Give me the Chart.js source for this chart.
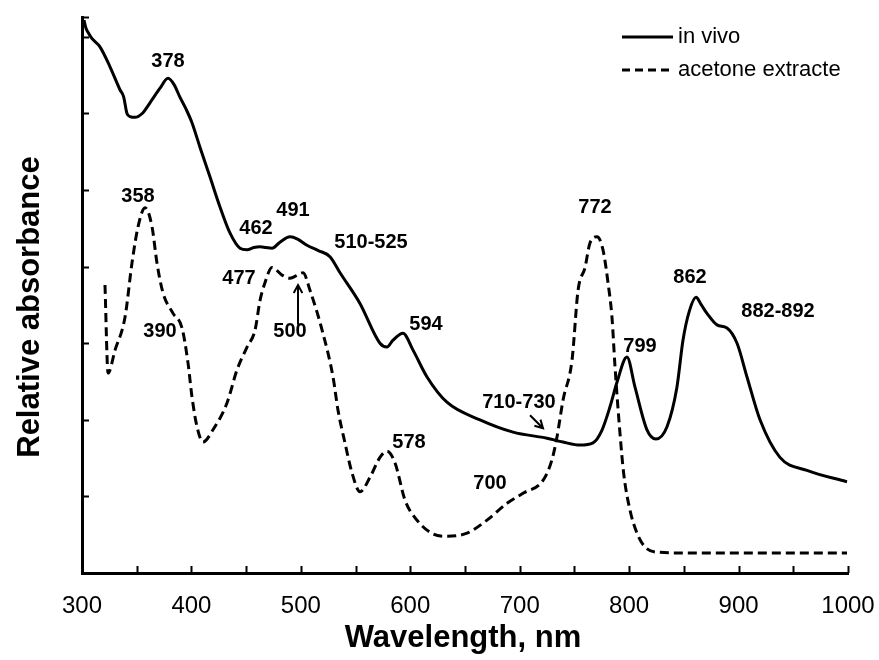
<!DOCTYPE html>
<html>
<head>
<meta charset="utf-8">
<script src="https://cdn.jsdelivr.net/npm/chart.js@4.4.0/dist/chart.umd.min.js"></script>
<style>
  html, body { margin: 0; padding: 0; background: #fff; }
  #wrap { width: 879px; height: 660px; }
</style>
</head>
<body>
<div id="wrap"><canvas id="chart"></canvas></div>
<script>
// in vivo spectrum (solid line)
const inVivoNm = [301.8, 303.5, 305.5, 309, 316.4, 325.6, 334.7, 338, 341.1, 344, 348.4, 355, 362.1, 371.3, 378.6, 384,
  389.6, 395, 400.5, 407.8, 417.0, 426.1, 435.2, 444.4, 450.8, 457, 462.7, 468, 473.6, 480.9, 490.1, 497, 505.6, 516, 526.6,
  535.8, 554.0, 572.3, 578.7, 584.2, 593.3, 602.5, 615.3, 633.5, 663.7, 693.9, 724.9, 739.6, 755.1, 767.0, 775, 782.5,
  788.9, 798.0, 805.3, 816.3, 824.5, 834.6, 843.7, 849.2, 855, 861.1, 866, 871.1, 880.3, 889.4, 898.6, 907.7, 919.6,
  937.8, 962.5, 999.1];
const inVivoAbs = [7.22, 7.12, 7.06, 6.98, 6.87, 6.61, 6.31, 6.22, 6.0, 5.96, 5.95, 6.0, 6.14, 6.33, 6.46, 6.38,
  6.21, 6.06, 5.88, 5.56, 5.17, 4.78, 4.44, 4.24, 4.22, 4.25, 4.26, 4.25, 4.24, 4.32, 4.39, 4.36, 4.28, 4.21, 4.13,
  3.92, 3.52, 3.0, 2.95, 3.04, 3.13, 2.91, 2.56, 2.23, 2.0, 1.84, 1.76, 1.71, 1.67, 1.70, 1.86, 2.17,
  2.49, 2.82, 2.43, 1.87, 1.75, 1.91, 2.43, 3.04, 3.42, 3.60, 3.50, 3.39, 3.24, 3.20, 3.0, 2.56, 2.0,
  1.51, 1.34, 1.19];

// acetone extract spectrum (dashed line)
const acetoneNm = [321.0, 323.8, 330.2, 339.3, 345.7, 351.2, 357.6, 364.0, 368.5, 374.0, 383.2, 391.4, 396.9, 400.5,
  405.1, 410.6, 419.7, 432.5, 441.6, 450.8, 458.1, 462.7, 467.2, 473.6, 482.8, 490.1, 502.0, 508.4, 520.2, 529.4,
  533.9, 540.3, 546.7, 554.0, 563.2, 572.3, 578.7, 586.0, 595.2, 606.1, 620.8, 633.5, 651.8, 670.1, 688.4, 703.0,
  721.3, 729.5, 734.1, 739.6, 747.8, 753.3, 759.7, 764.2, 770.6, 776.1, 780.7, 784.3, 787.1, 791.6, 795, 800.8,
  807.2, 814.5, 828.2, 862.0, 999.1];
const acetoneAbs = [3.76, 2.61, 2.91, 3.34, 4.05, 4.52, 4.77, 4.52, 4.05, 3.66, 3.39, 3.20, 2.74, 2.30,
  1.91, 1.71, 1.87, 2.22, 2.65, 2.95, 3.17, 3.56, 3.79, 3.99, 3.89, 3.85, 3.92, 3.69, 3.13, 2.56,
  2.13, 1.70, 1.31, 1.06, 1.25, 1.51, 1.59, 1.44, 0.95, 0.69, 0.51, 0.48, 0.52, 0.69, 0.91, 1.04,
  1.21, 1.48, 1.78, 2.26, 2.78, 3.69, 3.99, 4.31, 4.39, 4.22, 3.79, 3.34, 2.69, 1.83, 1.30, 0.82,
  0.52, 0.34, 0.27, 0.26, 0.26];

// peak labels: text, wavelength, absorbance position
const peakText = ['378', '358', '462', '491', '477', '390', '500', '510-525', '594', '710-730', '578', '700',
  '772', '799', '862', '882-892'];
const peakNm = [378.6, 351.2, 459.0, 492.8, 443.5, 371.3, 490.1, 564.1, 614.4, 699.3, 598.8, 672.8,
  768.8, 809.9, 855.6, 936.0];
const peakAbs = [6.68, 4.91, 4.50, 4.73, 3.85, 3.16, 3.16, 4.31, 3.24, 2.22, 1.71, 1.17,
  4.77, 2.96, 3.86, 3.41];

// arrows: [fromNm, fromAbs, toNm, toAbs]
const arrows = [
  [497.4, 3.24, 497.4, 3.76],
  [709.4, 2.06, 721.3, 1.89]
];

const legendNames = ['in vivo', 'acetone extracte'];
const xTitle = 'Wavelength, nm';
const yTitle = 'Relative absorbance';

const FONT = '"Liberation Sans", Arial, sans-serif';

function toPoints(xs, ys) {
  return xs.map((x, i) => ({ x: x, y: ys[i] }));
}

const inwardTicks = {
  id: 'inwardTicks',
  afterDraw(chart) {
    const ctx = chart.ctx;
    const xs = chart.scales.x;
    const ys = chart.scales.y;
    const area = chart.chartArea;
    ctx.save();
    ctx.strokeStyle = '#000';
    ctx.lineWidth = 2;
    ctx.beginPath();
    xs.ticks.forEach(t => {
      const px = Math.round(xs.getPixelForValue(t.value)) + 0.5;
      ctx.moveTo(px, area.bottom);
      ctx.lineTo(px, area.bottom - 7);
    });
    ys.ticks.forEach(t => {
      if (t.value === 0) return;
      const py = Math.round(ys.getPixelForValue(t.value)) + 0.5;
      ctx.moveTo(area.left, py);
      ctx.lineTo(area.left + 7, py);
    });
    ctx.stroke();

    // axis titles
    ctx.fillStyle = '#000';
    ctx.font = 'bold 31px ' + FONT;
    ctx.textAlign = 'center';
    ctx.textBaseline = 'alphabetic';
    ctx.fillText(xTitle, (area.left + area.right) / 2 - 2, 647);
    ctx.translate(39, (area.top + area.bottom) / 2 + 12);
    ctx.rotate(-Math.PI / 2);
    ctx.fillText(yTitle, 0, 0);
    ctx.restore();
  }
};

const peakLabels = {
  id: 'peakLabels',
  afterDatasetsDraw(chart) {
    const ctx = chart.ctx;
    const xs = chart.scales.x;
    const ys = chart.scales.y;
    ctx.save();
    ctx.fillStyle = '#000';
    ctx.font = 'bold 20px ' + FONT;
    ctx.textAlign = 'center';
    ctx.textBaseline = 'middle';
    peakText.forEach((t, i) => {
      ctx.fillText(t, xs.getPixelForValue(peakNm[i]), ys.getPixelForValue(peakAbs[i]));
    });

    // arrows
    ctx.strokeStyle = '#000';
    ctx.lineWidth = 2;
    arrows.forEach(a => {
      const x1 = xs.getPixelForValue(a[0]), y1 = ys.getPixelForValue(a[1]);
      const x2 = xs.getPixelForValue(a[2]), y2 = ys.getPixelForValue(a[3]);
      const ang = Math.atan2(y2 - y1, x2 - x1);
      ctx.beginPath();
      ctx.moveTo(x1, y1);
      ctx.lineTo(x2, y2);
      ctx.moveTo(x2 - 9 * Math.cos(ang - 0.5), y2 - 9 * Math.sin(ang - 0.5));
      ctx.lineTo(x2, y2);
      ctx.lineTo(x2 - 9 * Math.cos(ang + 0.5), y2 - 9 * Math.sin(ang + 0.5));
      ctx.stroke();
    });

    // legend (top right)
    ctx.lineWidth = 3;
    ctx.font = '22px ' + FONT;
    ctx.textAlign = 'left';
    [37, 70].forEach((y, i) => {
      ctx.setLineDash(i === 0 ? [] : [8, 5]);
      ctx.beginPath();
      ctx.moveTo(622, y);
      ctx.lineTo(673, y);
      ctx.stroke();
      ctx.fillText(legendNames[i], 678, y);
    });
    ctx.restore();
  }
};

new Chart(document.getElementById('chart'), {
  type: 'line',
  data: {
    datasets: [
      {
        label: legendNames[0],
        data: toPoints(inVivoNm, inVivoAbs),
        borderColor: '#000',
        borderWidth: 3,
        pointRadius: 0,
        cubicInterpolationMode: 'monotone'
      },
      {
        label: legendNames[1],
        data: toPoints(acetoneNm, acetoneAbs),
        borderColor: '#000',
        borderWidth: 3,
        borderDash: [9, 5],
        pointRadius: 0,
        cubicInterpolationMode: 'monotone'
      }
    ]
  },
  options: {
    responsive: true,
    maintainAspectRatio: false,
    animation: false,
    layout: { padding: { top: 17, right: 31, bottom: 0, left: 0 } },
    plugins: {
      legend: { display: false },
      tooltip: { enabled: false }
    },
    scales: {
      x: {
        type: 'linear',
        min: 300,
        max: 1000,
        afterFit(scale) {
          scale.height = 87;
          scale.paddingLeft = 0;
          scale.paddingRight = 0;
        },
        grid: { drawOnChartArea: false, drawTicks: false },
        border: { color: '#000', width: 3 },
        ticks: {
          stepSize: 50,
          padding: 19,
          autoSkip: false,
          maxRotation: 0,
          minRotation: 0,
          color: '#000',
          font: { family: FONT, size: 24 },
          callback: v => (v % 100 === 0 ? v : '')
        }
      },
      y: {
        min: 0,
        max: 7.26,
        afterFit(scale) { scale.width = 82; },
        grid: { drawOnChartArea: false, drawTicks: false },
        border: { color: '#000', width: 3 },
        ticks: { stepSize: 1, display: false }
      }
    }
  },
  plugins: [inwardTicks, peakLabels]
});
</script>
</body>
</html>
